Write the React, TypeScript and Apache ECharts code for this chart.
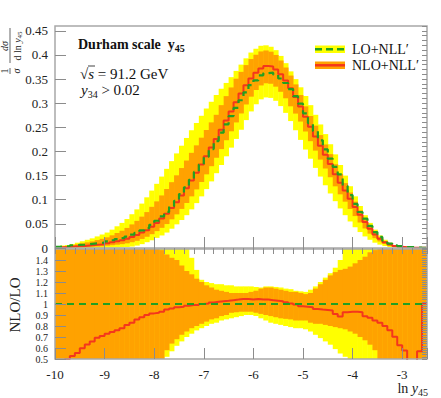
import React, { useEffect, useRef } from "react";
import * as echarts from "echarts";

// Binning of ln y45 (bins of 0.1 from -10 to -2.5)
const binStart = -10;
const binWidth = 0.1;

// Top panel: 1/sigma dsigma/dln y45
const loNLL = [
  0.0025, 0.0033, 0.004, 0.0057, 0.0063, 0.0067, 0.0079, 0.0091, 0.0101, 0.0113,
  0.0137, 0.0161, 0.0184, 0.0205, 0.0235, 0.0277, 0.0314, 0.0364, 0.0411, 0.0481,
  0.0565, 0.0656, 0.0747, 0.0865, 0.0979, 0.1118, 0.1259, 0.1414, 0.1576, 0.173,
  0.189, 0.205, 0.2216, 0.239, 0.2563, 0.2734, 0.2904, 0.3062, 0.3225, 0.3375,
  0.3474, 0.3577, 0.3625, 0.3633, 0.3592, 0.3512, 0.3419, 0.3294, 0.3146, 0.299,
  0.279, 0.2588, 0.2419, 0.2232, 0.2042, 0.1851, 0.1681, 0.1525, 0.1286, 0.1097,
  0.0914, 0.0746, 0.0607, 0.0457, 0.0329, 0.0229, 0.015, 0.0092, 0.0057, 0.004,
  0.0026, 0.0021, 0.0013, 0.0007, 0.0003,
];
const nloNLL = [
  0.001, 0.0015, 0.002, 0.003, 0.0035, 0.004, 0.005, 0.006, 0.007, 0.008,
  0.01, 0.012, 0.014, 0.016, 0.019, 0.023, 0.027, 0.032, 0.037, 0.044,
  0.052, 0.061, 0.071, 0.083, 0.095, 0.109, 0.124, 0.14, 0.156, 0.173,
  0.19, 0.208, 0.226, 0.245, 0.264, 0.283, 0.302, 0.32, 0.337, 0.351,
  0.363, 0.372, 0.377, 0.376, 0.37, 0.36, 0.347, 0.331, 0.313, 0.293,
  0.272, 0.251, 0.231, 0.212, 0.193, 0.174, 0.153, 0.135, 0.119, 0.102,
  0.085, 0.069, 0.054, 0.04, 0.028, 0.019, 0.012, 0.007, 0.004, 0.0025,
  0.0015, 0.001, 0.0006, 0.0004, 0.0003,
];
const loBandHi = [
  0.004, 0.005, 0.006, 0.008, 0.011, 0.014, 0.017, 0.02, 0.024, 0.028,
  0.032, 0.038, 0.045, 0.052, 0.06, 0.07, 0.08, 0.092, 0.105, 0.119,
  0.133, 0.148, 0.164, 0.18, 0.196, 0.212, 0.228, 0.244, 0.259, 0.274,
  0.289, 0.303, 0.317, 0.33, 0.342, 0.354, 0.367, 0.38, 0.393, 0.405,
  0.413, 0.419, 0.42, 0.417, 0.41, 0.398, 0.383, 0.366, 0.35, 0.333,
  0.315, 0.296, 0.276, 0.256, 0.236, 0.215, 0.194, 0.172, 0.15, 0.128,
  0.107, 0.087, 0.068, 0.052, 0.038, 0.026, 0.017, 0.011, 0.006, 0.004,
  0.003, 0.002, 0.0015, 0.001, 0.001,
];
const loBandLo = [
  0, 0, 0, 0, 0, 0, 0, 0, 0, 0,
  0.0005, 0.0008, 0.001, 0.0015, 0.002, 0.003, 0.005, 0.008, 0.012, 0.016,
  0.021, 0.026, 0.032, 0.04, 0.049, 0.058, 0.068, 0.08, 0.093, 0.107,
  0.122, 0.138, 0.155, 0.172, 0.19, 0.208, 0.226, 0.245, 0.265, 0.283,
  0.298, 0.308, 0.312, 0.311, 0.305, 0.294, 0.28, 0.263, 0.244, 0.224,
  0.204, 0.185, 0.166, 0.148, 0.13, 0.113, 0.097, 0.082, 0.068, 0.055,
  0.043, 0.033, 0.024, 0.017, 0.011, 0.007, 0.004, 0.002, 0.001, 0.0005,
  0, 0, 0, 0, 0,
];
const nloBandHi = [
  0.0027, 0.0034, 0.0042, 0.0058, 0.0076, 0.0095, 0.0116, 0.0137, 0.0164, 0.019,
  0.0221, 0.0263, 0.0311, 0.0358, 0.0416, 0.0489, 0.0562, 0.065, 0.0744, 0.0853,
  0.0966, 0.1089, 0.1222, 0.1364, 0.1506, 0.1657, 0.1812, 0.1972, 0.2127, 0.2286,
  0.2445, 0.2603, 0.276, 0.296, 0.3147, 0.3327, 0.3508, 0.365, 0.379, 0.3915,
  0.4005, 0.4073, 0.4093, 0.4068, 0.4, 0.3885, 0.374, 0.3573, 0.339, 0.317,
  0.2935, 0.2735, 0.2535, 0.234, 0.2145, 0.1945, 0.1735, 0.1535, 0.1345, 0.115,
  0.096, 0.078, 0.061, 0.046, 0.033, 0.0225, 0.0145, 0.009, 0.005, 0.0033,
  0.0023, 0.0015, 0.001, 0.0007, 0.0007,
];
const nloBandLo = [
  0.00045, 0.0007, 0.0009, 0.0014, 0.0016, 0.0018, 0.0023, 0.0027, 0.0032, 0.0036,
  0.0048, 0.0058, 0.0069, 0.008, 0.0097, 0.012, 0.0149, 0.0188, 0.0233, 0.0286,
  0.035, 0.0418, 0.0496, 0.0594, 0.0697, 0.081, 0.0932, 0.107, 0.1214, 0.1367,
  0.1526, 0.1695, 0.187, 0.2049, 0.2233, 0.2418, 0.2602, 0.2788, 0.2974, 0.3136,
  0.3273, 0.3368, 0.3413, 0.3403, 0.3343, 0.3237, 0.3102, 0.2936, 0.2785, 0.262,
  0.2414, 0.2213, 0.2018, 0.1832, 0.1647, 0.1466, 0.1278, 0.1112, 0.096, 0.0809,
  0.0661, 0.0528, 0.0405, 0.0297, 0.0204, 0.0136, 0.0084, 0.0048, 0.0027, 0.0016,
  0.0008, 0.0006, 0.0003, 0.0002, 0.0002,
];

// Ratio panel bands (relative to LO+NLL')
const ratioNloBandHi = [
  2, 2, 2, 2, 2, 2, 2, 2, 2, 2,
  2, 2, 2, 2, 2, 2, 2, 2, 2, 2,
  2, 1.49, 1.45, 1.42, 1.4, 1.35, 1.3, 1.27, 1.23, 1.2,
  1.17, 1.15, 1.13, 1.12, 1.11, 1.1, 1.1, 1.1, 1.1, 1.11,
  1.12, 1.14, 1.15, 1.15, 1.14, 1.13, 1.12, 1.11, 1.11, 1.1,
  1.09, 1.1, 1.14, 1.18, 1.22, 1.26, 1.29, 1.31, 1.32, 1.34,
  1.37, 1.4, 1.43, 1.47, 1.49, 2, 2, 2, 2, 2,
  2, 2, 2, 2, 2,
];
const ratioNloBandLo = [
  0.2, 0.2, 0.2, 0.2, 0.2, 0.2, 0.2, 0.2, 0.2, 0.2,
  0.2, 0.2, 0.2, 0.2, 0.2, 0.2, 0.2, 0.2, 0.2, 0.2,
  0.2, 0.5, 0.58, 0.64, 0.68, 0.72, 0.75, 0.78, 0.8, 0.82,
  0.84, 0.86, 0.87, 0.89, 0.9, 0.92, 0.925, 0.93, 0.93, 0.93,
  0.92, 0.91, 0.9, 0.89, 0.88, 0.87, 0.865, 0.86, 0.85, 0.85,
  0.85, 0.83, 0.82, 0.82, 0.81, 0.8, 0.79, 0.78, 0.77, 0.75,
  0.73, 0.7, 0.67, 0.63, 0.58, 0.2, 0.2, 0.2, 0.2, 0.2,
  0.2, 0.2, 0.2, 0.2, 0.2,
];
const ratioLoBandHi = [
  2, 2, 2, 2, 2, 2, 2, 2, 2, 2,
  2, 2, 2, 2, 2, 2, 2, 2, 2, 2,
  2, 2, 2, 2, 2, 2, 2, 1.42, 1.31, 1.22,
  1.2, 1.19, 1.18, 1.18, 1.17, 1.17, 1.16, 1.16, 1.16, 1.16,
  1.155, 1.15, 1.16, 1.16, 1.155, 1.15, 1.14, 1.135, 1.12, 1.115,
  1.11, 1.13, 1.16, 1.2, 1.24, 1.28, 1.33, 1.4, 2, 2,
  2, 2, 2, 2, 2, 2, 2, 2, 2, 2,
  2, 2, 2, 2, 2,
];
const ratioLoBandLo = [
  0.2, 0.2, 0.2, 0.2, 0.2, 0.2, 0.2, 0.2, 0.2, 0.2,
  0.2, 0.2, 0.2, 0.2, 0.2, 0.2, 0.2, 0.2, 0.2, 0.2,
  0.2, 0.45, 0.52, 0.57, 0.62, 0.66, 0.7, 0.73, 0.76, 0.78,
  0.8, 0.82, 0.83, 0.85, 0.86, 0.87, 0.88, 0.89, 0.9, 0.9,
  0.89, 0.87, 0.85, 0.83, 0.82, 0.81, 0.8, 0.79, 0.78, 0.78,
  0.77, 0.75, 0.72, 0.69, 0.66, 0.63, 0.59, 0.55, 0.52, 0.2,
  0.2, 0.2, 0.2, 0.2, 0.2, 0.2, 0.2, 0.2, 0.2, 0.2,
  0.2, 0.2, 0.2, 0.2, 0.2,
];

const YELLOW = "#ffff00";
const ORANGE = "#ffa200";
const RED = "#f4361c";
const GREEN = "#22a022";
const TICK = "#8c8c8c";
const SERIF = "'Liberation Serif', 'DejaVu Serif', serif";

const nBins = loNLL.length;
const edges = Array.from({ length: nBins + 1 }, (_, i) => +(binStart + i * binWidth).toFixed(2));

function bandData(lo: number[], hi: number[]) {
  return lo.map((l, i) => [edges[i], edges[i + 1], l, hi[i]]);
}
function stepData(v: number[]) {
  const d = v.map((y, i) => [edges[i], y]);
  d.push([edges[nBins], v[nBins - 1]]);
  return d;
}

function bandSeries(data: any[], color: string, axis: number, yMin: number, yMax: number, z: number) {
  return {
    type: "custom",
    xAxisIndex: axis,
    yAxisIndex: axis,
    data,
    z,
    clip: true,
    silent: true,
    encode: { x: [0, 1], y: [2, 3] },
    renderItem: (_p: any, api: any) => {
      const x0 = api.value(0);
      const x1 = api.value(1);
      const lo = Math.max(api.value(2), yMin);
      const hi = Math.min(api.value(3), yMax);
      if (!(hi > lo)) return { type: "group", children: [] };
      const a = api.coord([x0, hi]);
      const b = api.coord([x1, lo]);
      return {
        type: "rect",
        shape: { x: a[0], y: a[1], width: b[0] - a[0] + 0.4, height: b[1] - a[1] },
        style: { fill: color },
      };
    },
  };
}

function stepSeries(data: any[], color: string, axis: number, dashed: boolean, z: number) {
  return {
    type: "line",
    xAxisIndex: axis,
    yAxisIndex: axis,
    data,
    step: "end",
    showSymbol: false,
    symbol: "none",
    clip: true,
    z,
    silent: true,
    lineStyle: { color, width: dashed ? 2.2 : 2, type: dashed ? [7, 5] : "solid" },
  };
}

const ratioNlo = nloNLL.map((v, i) => v / loNLL[i]);
const ratioLo = loNLL.map((v) => v / v);

function xAxisDef(grid: number, interval: number, tickLen: number, labels: boolean) {
  return {
    type: "value",
    gridIndex: grid,
    min: -10,
    max: -2.5,
    interval,
    z: 12,
    axisLine: { show: false },
    axisTick: { show: true, inside: true, length: tickLen, lineStyle: { color: TICK, width: 1 } },
    splitLine: { show: false },
    axisLabel: labels
      ? {
          show: true,
          margin: 9,
          color: "#222",
          fontFamily: SERIF,
          fontSize: 13,
          formatter: (v: number) => (Math.abs(v - Math.round(v)) < 1e-6 ? String(Math.round(v)) : ""),
        }
      : { show: false },
  };
}

function yAxisDef(grid: number, min: number, max: number, interval: number, tickLen: number, labelSize: number) {
  return {
    type: "value",
    gridIndex: grid,
    min,
    max,
    interval,
    z: 12,
    axisLine: { show: false },
    axisTick: { show: true, inside: true, length: tickLen, lineStyle: { color: TICK, width: 1 } },
    splitLine: { show: false },
    axisLabel: labelSize
      ? {
          show: true,
          margin: 7,
          color: "#222",
          fontFamily: SERIF,
          fontSize: labelSize,
          lineHeight: labelSize,
          showMaxLabel: false,
          formatter: (v: number) => String(+v.toFixed(2)),
        }
      : { show: false },
  };
}

const option: any = {
  animation: false,
  backgroundColor: "#fff",
  grid: [
    { left: 55, top: 26, width: 372, height: 222, show: true, borderColor: "#a8a8a8", borderWidth: 1.5, backgroundColor: "transparent", z: 11 },
    { left: 55, top: 249, width: 372, height: 110, show: true, borderColor: "#a8a8a8", borderWidth: 1.5, backgroundColor: "transparent", z: 11 },
  ],
  xAxis: [
    xAxisDef(0, 1, 11, false),
    xAxisDef(0, 0.2, 5, false),
    xAxisDef(1, 1, 11, true),
    xAxisDef(1, 0.2, 5, false),
  ],
  yAxis: [
    yAxisDef(0, 0, 0.46, 0.05, 11, 13),
    yAxisDef(0, 0, 0.46, 0.01, 5, 0),
    yAxisDef(1, 0.5, 1.5, 0.1, 11, 10),
    yAxisDef(1, 0.5, 1.5, 0.02, 5, 0),
  ],
  series: [
    bandSeries(bandData(loBandLo, loBandHi), YELLOW, 0, 0, 0.46, 2),
    bandSeries(bandData(nloBandLo, nloBandHi), ORANGE, 0, 0, 0.46, 3),
    stepSeries(stepData(nloNLL), RED, 0, false, 4),
    stepSeries(stepData(loNLL), GREEN, 0, true, 5),
    bandSeries(bandData(ratioLoBandLo, ratioLoBandHi), YELLOW, 2, 0.5, 1.5, 2),
    bandSeries(bandData(ratioNloBandLo, ratioNloBandHi), ORANGE, 2, 0.5, 1.5, 3),
    stepSeries(stepData(ratioNlo), RED, 2, false, 4),
    stepSeries(stepData(ratioLo), GREEN, 2, true, 5),
  ],
  graphic: [
    // y-axis title of the top panel: 1/sigma dsigma/dln y45
    {
      type: "group",
      x: 10,
      y: 51,
      rotation: Math.PI / 2,
      silent: true,
      children: [
        { type: "text", x: -20, y: -1, style: { text: "1", font: `10px ${SERIF}`, fill: "#222", align: "center", verticalAlign: "bottom" } },
        { type: "line", shape: { x1: -23, y1: 0, x2: -17, y2: 0 }, style: { stroke: "#222", lineWidth: 0.7 } },
        { type: "text", x: -20, y: 1, style: { text: "σ", font: `italic 10px ${SERIF}`, fill: "#222", align: "center", verticalAlign: "top" } },
        { type: "text", x: 5, y: -1, style: { text: "dσ", font: `italic 10px ${SERIF}`, fill: "#222", align: "center", verticalAlign: "bottom" } },
        { type: "line", shape: { x1: -12, y1: 0, x2: 23, y2: 0 }, style: { stroke: "#222", lineWidth: 0.7 } },
        {
          type: "text",
          x: 5,
          y: 1,
          style: {
            text: "{n|d ln }{i|y}{s|45}",
            align: "center",
            verticalAlign: "top",
            fill: "#222",
            rich: {
              n: { fontFamily: SERIF, fontSize: 10, lineHeight: 12, verticalAlign: "middle" },
              i: { fontFamily: SERIF, fontSize: 10, fontStyle: "italic", lineHeight: 12, verticalAlign: "middle" },
              s: { fontFamily: SERIF, fontSize: 7, lineHeight: 7, verticalAlign: "bottom" },
            },
          },
        },
      ],
    },
    // ratio panel y title
    {
      type: "text",
      x: 15,
      y: 305,
      rotation: Math.PI / 2,
      silent: true,
      style: { text: "NLO/LO", font: `15px ${SERIF}`, fill: "#222", align: "center", verticalAlign: "middle" },
    },
    // x-axis title
    {
      type: "text",
      x: 428,
      y: 388,
      silent: true,
      style: {
        text: "{n|ln }{i|y}{s|45}",
        align: "right",
        verticalAlign: "middle",
        fill: "#222",
        rich: {
          n: { fontFamily: SERIF, fontSize: 14, lineHeight: 18, verticalAlign: "middle" },
          i: { fontFamily: SERIF, fontSize: 14, fontStyle: "italic", lineHeight: 18, verticalAlign: "middle" },
          s: { fontFamily: SERIF, fontSize: 10, lineHeight: 10, verticalAlign: "bottom" },
        },
      },
    },
    // annotations
    {
      type: "text",
      x: 78,
      y: 44,
      silent: true,
      style: {
        text: "{b|Durham scale  y}{s|45}",
        align: "left",
        verticalAlign: "middle",
        fill: "#111",
        rich: {
          b: { fontFamily: SERIF, fontSize: 14, fontWeight: "bold", lineHeight: 18, verticalAlign: "middle" },
          s: { fontFamily: SERIF, fontSize: 10, fontWeight: "bold", lineHeight: 10, verticalAlign: "bottom" },
        },
      },
    },
    {
      type: "text",
      x: 80,
      y: 74,
      silent: true,
      style: {
        text: "{r|√}{i|s}{n| = 91.2 GeV}",
        align: "left",
        verticalAlign: "middle",
        fill: "#111",
        rich: {
          r: { fontFamily: SERIF, fontSize: 15, lineHeight: 18, verticalAlign: "middle" },
          i: { fontFamily: SERIF, fontSize: 15, fontStyle: "italic", lineHeight: 18, verticalAlign: "middle" },
          n: { fontFamily: SERIF, fontSize: 15, lineHeight: 18, verticalAlign: "middle" },
        },
      },
    },
    { type: "line", silent: true, shape: { x1: 88, y1: 66, x2: 95, y2: 66 }, style: { stroke: "#111", lineWidth: 0.8 } },
    {
      type: "text",
      x: 81,
      y: 90,
      silent: true,
      style: {
        text: "{i|y}{s|34}{n| > 0.02}",
        align: "left",
        verticalAlign: "middle",
        fill: "#111",
        rich: {
          i: { fontFamily: SERIF, fontSize: 15, fontStyle: "italic", lineHeight: 18, verticalAlign: "middle" },
          s: { fontFamily: SERIF, fontSize: 10, lineHeight: 10, verticalAlign: "bottom" },
          n: { fontFamily: SERIF, fontSize: 15, lineHeight: 18, verticalAlign: "middle" },
        },
      },
    },
    // legend
    { type: "rect", silent: true, shape: { x: 315, y: 45.5, width: 30, height: 7.5 }, style: { fill: YELLOW } },
    { type: "line", silent: true, shape: { x1: 315, y1: 49.3, x2: 345, y2: 49.3 }, style: { stroke: GREEN, lineWidth: 2.5, lineDash: [7, 4] } },
    { type: "rect", silent: true, shape: { x: 315, y: 61.5, width: 30, height: 7.5 }, style: { fill: ORANGE } },
    { type: "line", silent: true, shape: { x1: 315, y1: 65.3, x2: 345, y2: 65.3 }, style: { stroke: RED, lineWidth: 2.5 } },
    { type: "text", silent: true, x: 352, y: 49.5, style: { text: "LO+NLL′", font: `14px ${SERIF}`, fill: "#111", align: "left", verticalAlign: "middle" } },
    { type: "text", silent: true, x: 352, y: 65.5, style: { text: "NLO+NLL′", font: `14px ${SERIF}`, fill: "#111", align: "left", verticalAlign: "middle" } },
  ],
};

export default function App() {
  const ref = useRef<HTMLDivElement>(null);
  useEffect(() => {
    if (!ref.current) return;
    const chart = echarts.init(ref.current, null, { renderer: "svg" });
    chart.setOption(option);
    return () => chart.dispose();
  }, []);
  return (
    <div
      ref={ref}
      style={{ position: "fixed", left: 0, top: 0, width: 441, height: 398, background: "#fff" }}
    />
  );
}
